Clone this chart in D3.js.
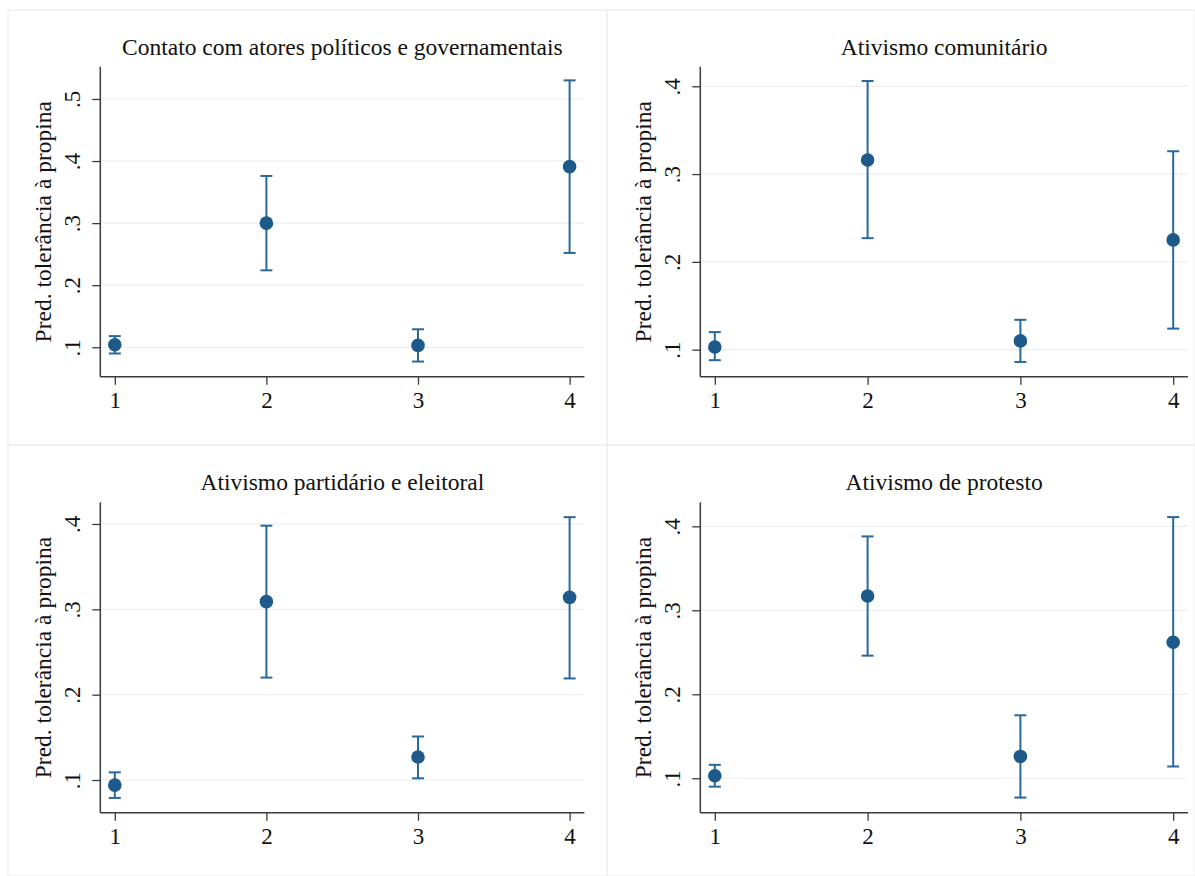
<!DOCTYPE html>
<html>
<head>
<meta charset="utf-8">
<script src="https://cdn.jsdelivr.net/npm/d3@7"></script>
<style>
  body { margin: 0; background: #fff; }
  svg { display: block; }
  text { font-family: "Liberation Serif", "Times New Roman", serif; fill: #111; }
</style>
</head>
<body>
<div class="chart-container"></div>
<script>
// valores (margens preditas + IC 95%)
const titles = [
  "Contato com atores políticos e governamentais",
  "Ativismo comunitário",
  "Ativismo partidário e eleitoral",
  "Ativismo de protesto"
];
const categories = [1, 2, 3, 4];
const yLabel = "Pred. tolerância à propina";

const contatoMean  = [0.104, 0.300, 0.103, 0.391];
const contatoLow   = [0.090, 0.224, 0.077, 0.252];
const contatoHigh  = [0.118, 0.376, 0.129, 0.530];

const comunMean    = [0.103, 0.316, 0.110, 0.225];
const comunLow     = [0.088, 0.227, 0.086, 0.124];
const comunHigh    = [0.120, 0.406, 0.134, 0.326];

const partidMean   = [0.094, 0.309, 0.127, 0.314];
const partidLow    = [0.079, 0.220, 0.102, 0.219];
const partidHigh   = [0.109, 0.398, 0.151, 0.408];

const protestoMean = [0.103, 0.317, 0.126, 0.262];
const protestoLow  = [0.090, 0.246, 0.077, 0.114];
const protestoHigh = [0.116, 0.388, 0.175, 0.411];

const yTicks1 = [0.1, 0.2, 0.3, 0.4, 0.5];
const yTicks2 = [0.1, 0.2, 0.3, 0.4];
const yTickLabels = {0.1: ".1", 0.2: ".2", 0.3: ".3", 0.4: ".4", 0.5: ".5"};

const W = 1195, H = 876;

// posição de cada painel
const panels = [
  {title: titles[0], mean: contatoMean, low: contatoLow, high: contatoHigh, ticks: yTicks1,
   yDom: [0.0526, 0.552], box: [8, 10, 607, 445], plot: {l: 100.3, r: 584.4, t: 66.7, b: 376.7}, titleY: 55},
  {title: titles[1], mean: comunMean, low: comunLow, high: comunHigh, ticks: yTicks2,
   yDom: [0.0692, 0.4223], box: [607, 10, 1195, 445], plot: {l: 700.3, r: 1188, t: 66.7, b: 376.7}, titleY: 55},
  {title: titles[2], mean: partidMean, low: partidLow, high: partidHigh, ticks: yTicks2,
   yDom: [0.0617, 0.4254], box: [8, 445, 607, 876], plot: {l: 100.3, r: 584.4, t: 502.3, b: 812.7}, titleY: 490},
  {title: titles[3], mean: protestoMean, low: protestoLow, high: protestoHigh, ticks: yTicks2,
   yDom: [0.059, 0.4286], box: [607, 445, 1195, 876], plot: {l: 700.3, r: 1188, t: 502.3, b: 812.7}, titleY: 490}
];

const svg = d3.select(".chart-container")
  .append("svg")
  .attr("width", W)
  .attr("height", H);

svg.append("rect").attr("width", W).attr("height", H).attr("fill", "#fff");

const markColor = "#1d5a8a";
const ciColor = "#2a679a";

panels.forEach(p => {
  const b = p.box;
  // borda clara do painel
  svg.append("rect")
    .attr("x", b[0]).attr("y", b[1])
    .attr("width", b[2] - b[0]).attr("height", b[3] - b[1])
    .attr("fill", "none")
    .attr("stroke", "#f0f0f0")
    .attr("stroke-width", 1.5);

  const x = d3.scaleLinear().domain([1, 4]).range([p.plot.l + 14.5, p.plot.r - 14.8]);
  const y = d3.scaleLinear().domain(p.yDom).range([p.plot.b, p.plot.t]);

  const g = svg.append("g");

  // grade
  g.selectAll(".grid")
    .data(p.ticks)
    .enter().append("line")
    .attr("x1", p.plot.l).attr("x2", p.plot.r)
    .attr("y1", d => y(d)).attr("y2", d => y(d))
    .attr("stroke", "#eaf0f2")
    .attr("stroke-width", 1.2);

  // eixo y
  const yAxis = g.append("g")
    .attr("transform", "translate(" + p.plot.l + ",0)")
    .call(d3.axisLeft(y).tickValues(p.ticks).tickSize(8).tickPadding(6).tickFormat(d => yTickLabels[d]));
  yAxis.select(".domain").remove();
  yAxis.append("line")
    .attr("y1", p.plot.t).attr("y2", p.plot.b)
    .attr("stroke", "#3a3a3a").attr("stroke-width", 1.5);
  yAxis.selectAll(".tick line").attr("stroke", "#3a3a3a").attr("stroke-width", 1.3);
  yAxis.selectAll(".tick text")
    .attr("font-size", 23)
    .attr("fill", "#111")
    .attr("text-anchor", "middle")
    .attr("x", 0).attr("dy", 0)
    .attr("transform", "translate(-20,0) rotate(-90)");

  // eixo x
  const xAxis = g.append("g")
    .attr("transform", "translate(0," + p.plot.b + ")")
    .call(d3.axisBottom(x).tickValues(categories).tickSize(8).tickPadding(6).tickFormat(d3.format("d")));
  xAxis.select(".domain").remove();
  xAxis.append("line")
    .attr("x1", p.plot.l).attr("x2", p.plot.r)
    .attr("stroke", "#3a3a3a").attr("stroke-width", 1.5);
  xAxis.selectAll(".tick line").attr("stroke", "#3a3a3a").attr("stroke-width", 1.3);
  xAxis.selectAll(".tick text")
    .attr("font-size", 23)
    .attr("fill", "#111")
    .attr("dy", 0)
    .attr("y", 31);

  // título
  g.append("text")
    .attr("x", (p.plot.l + p.plot.r) / 2)
    .attr("y", p.titleY)
    .attr("text-anchor", "middle")
    .attr("font-size", 23.5)
    .text(p.title);

  // rótulo y
  g.append("text")
    .attr("transform", "translate(" + (p.plot.l - 49) + "," + ((p.plot.t + p.plot.b) / 2) + ") rotate(-90)")
    .attr("text-anchor", "middle")
    .attr("font-size", 23.5)
    .text(yLabel);

  const rows = categories.map((c, i) => ({c: c, m: p.mean[i], lo: p.low[i], hi: p.high[i]}));

  // intervalos de confiança
  const ci = g.selectAll(".ci").data(rows).enter().append("g");
  ci.append("line")
    .attr("x1", d => x(d.c)).attr("x2", d => x(d.c))
    .attr("y1", d => y(d.lo)).attr("y2", d => y(d.hi))
    .attr("stroke", ciColor).attr("stroke-width", 2);
  ci.append("line")
    .attr("x1", d => x(d.c) - 6).attr("x2", d => x(d.c) + 6)
    .attr("y1", d => y(d.lo)).attr("y2", d => y(d.lo))
    .attr("stroke", ciColor).attr("stroke-width", 2);
  ci.append("line")
    .attr("x1", d => x(d.c) - 6).attr("x2", d => x(d.c) + 6)
    .attr("y1", d => y(d.hi)).attr("y2", d => y(d.hi))
    .attr("stroke", ciColor).attr("stroke-width", 2);

  // pontos
  g.selectAll(".pt").data(rows).enter().append("circle")
    .attr("cx", d => x(d.c))
    .attr("cy", d => y(d.m))
    .attr("r", 6.8)
    .attr("fill", markColor);
});
</script>
</body>
</html>
